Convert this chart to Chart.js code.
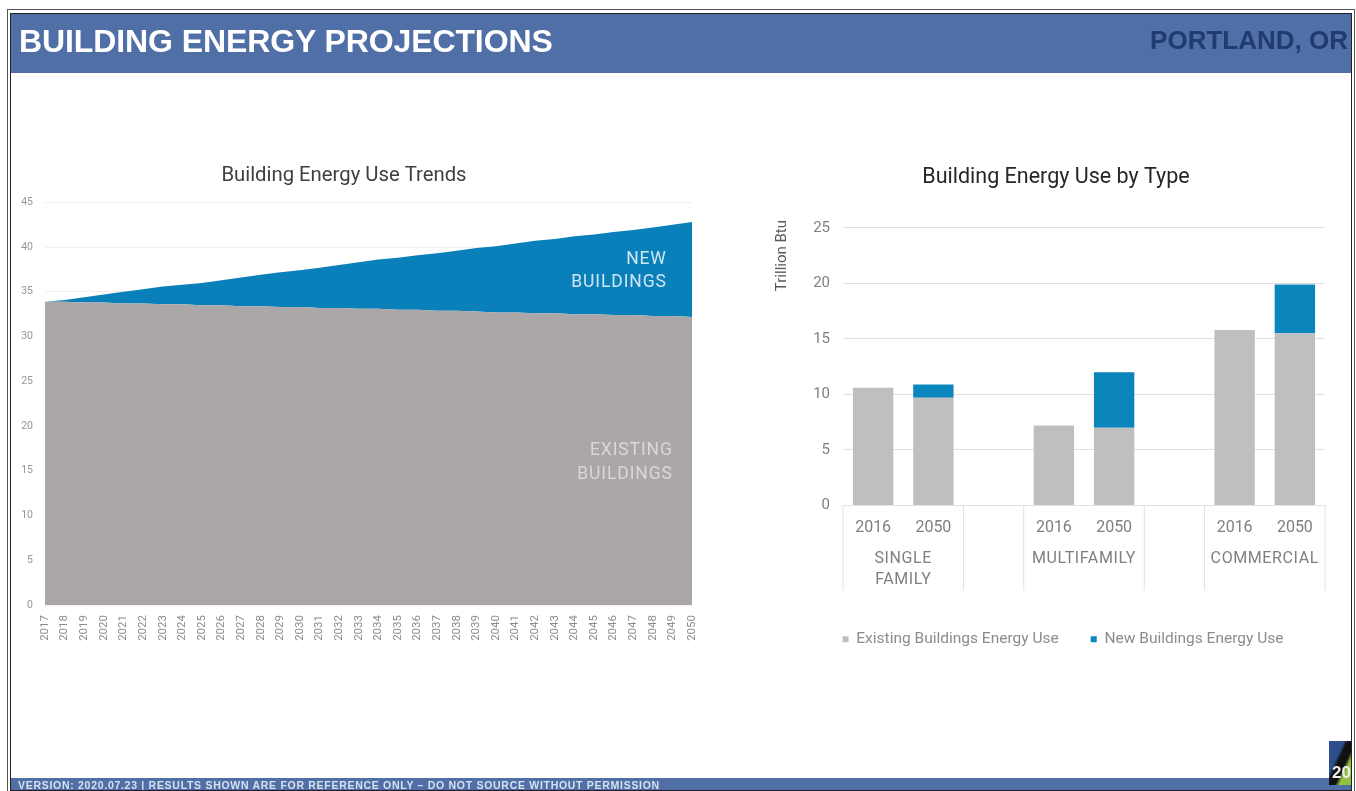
<!DOCTYPE html>
<html><head><meta charset="utf-8">
<script src="https://cdn.jsdelivr.net/npm/chart.js@4"></script>
<style>
html,body{margin:0;padding:0;background:#fff;width:1356px;height:791px;overflow:hidden}
body{position:relative;font-family:"Liberation Sans",Arial,sans-serif}
#outer{position:absolute;left:7px;top:9px;width:1348px;height:790px;border:1px solid #555;box-sizing:border-box}
#frame{position:absolute;left:10px;top:13px;width:1342px;height:778px;border:1px solid #222;box-sizing:border-box;z-index:2}
#head{position:absolute;left:10px;top:14px;width:1341px;height:59px;background:#506fa7}
#head .t{position:absolute;left:9px;top:9px;font-size:32px;font-weight:bold;color:#fff;letter-spacing:-.1px;line-height:36px;filter:blur(.5px)}
#head .c{position:absolute;right:3px;top:11px;font-size:26px;font-weight:bold;color:#1f3b70;line-height:30px;filter:blur(.6px)}
#foot{position:absolute;left:10px;top:778px;width:1341px;height:12px;background:#506fa7;overflow:hidden}
#foot div{position:absolute;left:8px;top:2px;font-size:10.5px;font-weight:bold;color:#d8e0ef;line-height:10px;letter-spacing:.71px;white-space:nowrap;filter:blur(.6px)}
#logo{position:absolute;left:1329px;top:741px;width:22px;height:44px;background:linear-gradient(115deg,#2d4f8c 0 35%,#111 45% 62%,#8fc23f 72%);overflow:hidden;filter:blur(.5px);z-index:3}
#logo span{position:absolute;left:3px;top:22px;font:bold 17px "Liberation Sans";color:#eee}
#wrapL{position:absolute;left:-40px;top:150px;width:760px;height:510px;filter:blur(.6px)}
#wrapR{position:absolute;left:760px;top:150px;width:580px;height:510px;filter:blur(.6px)}
</style></head><body>
<div id="outer"></div>
<div id="head"><div class="t">BUILDING ENERGY PROJECTIONS</div><div class="c">PORTLAND, OR</div></div>
<div id="foot"><div>VERSION: 2020.07.23 | RESULTS SHOWN ARE FOR REFERENCE ONLY – DO NOT SOURCE WITHOUT PERMISSION</div></div>
<div id="frame"></div>
<div id="logo"><span>20</span></div>
<div id="wrapL"><canvas id="left"></canvas></div>
<div id="wrapR"><canvas id="right"></canvas></div>
<script>
const years=["2017","2018","2019","2020","2021","2022","2023","2024","2025","2026","2027","2028","2029","2030","2031","2032","2033","2034","2035","2036","2037","2038","2039","2040","2041","2042","2043","2044","2045","2046","2047","2048","2049","2050"];
const existingTrend=[33.9,33.9,33.8,33.8,33.7,33.7,33.6,33.6,33.5,33.5,33.4,33.4,33.3,33.3,33.2,33.2,33.1,33.1,33.0,33.0,32.9,32.9,32.8,32.7,32.7,32.6,32.6,32.5,32.5,32.4,32.4,32.3,32.3,32.2];
const newTrend=[0,0.2,0.6,0.9,1.3,1.6,2.0,2.2,2.5,2.8,3.2,3.5,3.9,4.1,4.5,4.8,5.2,5.5,5.8,6.1,6.4,6.7,7.1,7.4,7.7,8.1,8.3,8.7,8.9,9.3,9.5,9.9,10.2,10.6];
const typeCategories=["2016","2050","","2016","2050","","2016","2050"];
const existingByType=[10.6,9.7,null,7.2,7.0,null,15.8,15.5];
const newByType=[0,1.2,null,0,5.0,null,0,4.4];
const groupLabels=[["SINGLE","FAMILY"],["MULTIFAMILY"],["COMMERCIAL"]];
const FONT='Roboto, "Liberation Sans", sans-serif';
Chart.defaults.animation=false;
Chart.defaults.responsive=true;
Chart.defaults.maintainAspectRatio=false;
Chart.defaults.font.family=FONT;

const areaLabels={id:'areaLabels',afterDatasetsDraw(c){
  const {ctx,scales:{x,y}}=c;ctx.save();
  ctx.font='17.5px '+FONT;ctx.letterSpacing='0.9px';ctx.textAlign='right';ctx.textBaseline='middle';
  const put=(a,b,cat,dx,top,col)=>{const px=x.getPixelForValue(cat)+dx;ctx.fillStyle=col;
    ctx.fillText(a,px,y.getPixelForValue(top));ctx.fillText(b,px,y.getPixelForValue(top-2.6));};
  put('NEW','BUILDINGS',years.indexOf('2048'),14,38.6,'#cfe6f2');
  put('EXISTING','BUILDINGS',years.indexOf('2048'),20,17.2,'#d9d7d8');
  ctx.restore();
}};
new Chart(document.getElementById('left'),{type:'line',plugins:[areaLabels],
 data:{labels:years,datasets:[
  {label:'Existing Buildings',data:existingTrend,backgroundColor:'#aba6a7',borderWidth:0,pointRadius:0,fill:'origin',tension:0},
  {label:'New Buildings',data:newTrend,backgroundColor:'#0a80bb',borderWidth:0,pointRadius:0,fill:'-1',tension:0}]},
 options:{layout:{padding:{top:14,right:28,left:36,bottom:0}},
  plugins:{legend:{display:false},tooltip:{enabled:false},
   title:{display:true,text:'Building Energy Use Trends',color:'#404040',font:{size:20.3,weight:'normal'},padding:{top:0,bottom:14}}},
  scales:{
   x:{stacked:true,grid:{display:false},border:{display:false},afterFit(s){s.height=55},
      ticks:{color:'#8c8c8c',font:{size:11.5},maxRotation:90,minRotation:90,autoSkip:false,padding:2}},
   y:{stacked:true,min:0,max:45,grid:{color:'#f0f0f0',drawTicks:false},border:{display:false},afterFit(s){s.width=49},
      ticks:{stepSize:5,color:'#969696',font:{size:10.5},padding:12}}
  }}});

const groupAxis={id:'groupAxis',afterDraw(c){
  const {ctx,scales:{x,y}}=c;ctx.save();
  const step=x.getPixelForValue(1)-x.getPixelForValue(0);
  const y0=y.getPixelForValue(0);
  ctx.strokeStyle='#e2e2e2';ctx.lineWidth=1;
  [[0,1],[3,4],[6,7]].forEach((g,i)=>{
    const l=x.getPixelForValue(g[0])-step/2,r=x.getPixelForValue(g[1])+step/2;
    [l,r].forEach(p=>{ctx.beginPath();ctx.moveTo(p,y0);ctx.lineTo(p,y0+85);ctx.stroke();});
    ctx.fillStyle='#7f7f7f';ctx.font='16px '+FONT;ctx.letterSpacing='0.6px';ctx.textAlign='center';ctx.textBaseline='middle';
    groupLabels[i].forEach((t,k)=>ctx.fillText(t,(l+r)/2,y0+53+k*21));
  });
  ctx.letterSpacing='0px';
  ctx.translate(x.left-61,y.getPixelForValue(22.5));ctx.rotate(-Math.PI/2);
  ctx.fillStyle='#595959';ctx.font='15px '+FONT;ctx.textAlign='center';ctx.textBaseline='middle';
  ctx.fillText('Trillion Btu',0,0);
  ctx.restore();
},afterLayout(c){c.legend.left+=7;c.legend.right+=7;}};
new Chart(document.getElementById('right'),{type:'bar',plugins:[groupAxis],
 data:{labels:typeCategories,datasets:[
  {label:'Existing Buildings Energy Use',data:existingByType,backgroundColor:'#bfbfbf',stack:'s',barPercentage:.67,categoryPercentage:1},
  {label:'New Buildings Energy Use',data:newByType,backgroundColor:'#0a86bd',stack:'s',barPercentage:.67,categoryPercentage:1}]},
 options:{layout:{padding:{top:15,right:15,left:27,bottom:3}},
  plugins:{tooltip:{enabled:false},
   title:{display:true,text:'Building Energy Use by Type',color:'#262626',font:{size:21.5,weight:'normal'},padding:{top:0,bottom:37}},
   legend:{position:'bottom',labels:{boxWidth:6,boxHeight:6,color:'#8c8c8c',font:{size:15.5},padding:32}}},
  scales:{
   x:{stacked:true,grid:{display:false},border:{color:'#e2e2e2'},afterFit(s){s.height=94},
      ticks:{color:'#7f7f7f',font:{size:16},maxRotation:0,autoSkip:false,padding:5}},
   y:{stacked:true,min:0,max:25,grid:{color:'#dfdfdf',drawTicks:false},border:{display:false},afterFit(s){s.width=56},
      ticks:{stepSize:5,color:'#7f7f7f',font:{size:15},padding:13}}
  }}});
</script>
</body></html>
